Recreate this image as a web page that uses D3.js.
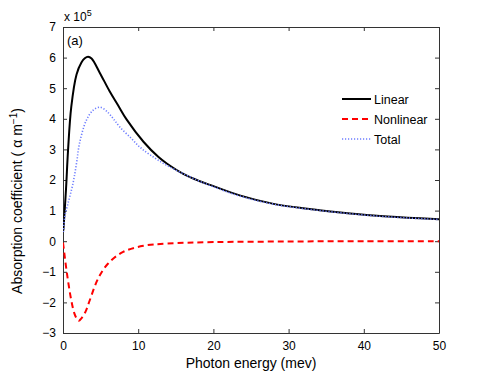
<!DOCTYPE html>
<html>
<head>
<meta charset="utf-8">
<script src="https://cdn.jsdelivr.net/npm/d3@7"></script>
<style>
  body { margin: 0; background: #fff; }
  text { font-family: "Liberation Sans", Arial, sans-serif; fill: #000; }
</style>
</head>
<body>
<div id="my_dataviz"></div>
<script>
// values (y in units of 1e5)
var linearE   = [0.05, 0.4, 0.67, 1.1, 1.8, 2.45, 2.9, 3.33, 3.8, 4.9, 6.2, 7.3, 8.45, 10.7, 12.7, 13.8, 16, 18.2, 20, 23.6, 28, 32.5, 36.9, 41.3, 45.8, 50];
var linearVal = [0.35, 1.7, 2.97, 4.39, 5.45, 5.84, 5.98, 6.03, 5.97, 5.5, 4.9, 4.45, 3.98, 3.25, 2.75, 2.54, 2.2, 1.96, 1.8, 1.49, 1.22, 1.06, 0.94, 0.84, 0.77, 0.72];

var nonlinE   = [0, 0.1, 0.53, 1.1, 1.5, 1.8, 2.1, 2.45, 3.0, 3.56, 4.67, 6.0, 8.0, 10.7, 13.8, 20, 30, 40, 50];
var nonlinVal = [-0.05, -0.24, -1.06, -1.93, -2.35, -2.52, -2.6, -2.52, -2.3, -1.93, -1.22, -0.73, -0.35, -0.15, -0.08, -0.03, -0.01, 0, 0];

var totalE    = [0.05, 0.23, 0.67, 1.33, 1.8, 2.2, 3.1, 4.0, 4.9, 5.8, 6.7, 7.56, 9.0, 10.2, 11.6, 13.8, 17.8, 20, 23.6, 28, 32.5, 36.9, 41.3, 45.8, 50];
var totalVal  = [0.3, 0.8, 1.24, 1.89, 2.55, 3.2, 3.95, 4.28, 4.38, 4.25, 4.0, 3.73, 3.38, 3.08, 2.82, 2.48, 2.0, 1.78, 1.47, 1.21, 1.05, 0.93, 0.83, 0.76, 0.71];

var xTicks = [0, 10, 20, 30, 40, 50];
var yTicks = [-3, -2, -1, 0, 1, 2, 3, 4, 5, 6, 7];
var seriesNames = ["Linear", "Nonlinear", "Total"];

var margin = {top: 27, right: 46, bottom: 41, left: 63},
    width = 485 - margin.left - margin.right,
    height = 374 - margin.top - margin.bottom;

var svg = d3.select("#my_dataviz")
            .append("svg")
              .attr("width", 485)
              .attr("height", 374)
            .append("g")
              .attr("transform", "translate(" + margin.left + "," + margin.top + ")");

var x = d3.scaleLinear().domain([0, 50]).range([0, width]);
var y = d3.scaleLinear().domain([-3, 7]).range([height, 0]);

// clip curves to the plot box
svg.append("clipPath").attr("id", "clip")
   .append("rect").attr("width", width).attr("height", height);

function styleAxis(g) {
  g.selectAll("path").attr("stroke", "#333").attr("stroke-width", 1);
  g.selectAll("line").attr("stroke", "#333");
  g.selectAll("text").style("font-size", "12px").attr("fill", "#000");
}

// bottom / left axes with inward ticks
svg.append("g")
   .attr("transform", "translate(0," + height + ")")
   .call(d3.axisBottom(x).tickValues(xTicks).tickSize(-4).tickSizeOuter(0).tickPadding(8))
   .call(styleAxis);
svg.append("g")
   .call(d3.axisLeft(y).tickValues(yTicks).tickSize(-4).tickSizeOuter(0).tickPadding(7))
   .call(styleAxis);
// top / right axes, no labels
svg.append("g")
   .call(d3.axisTop(x).tickValues(xTicks).tickSize(-4).tickSizeOuter(0).tickFormat(""))
   .call(styleAxis);
svg.append("g")
   .attr("transform", "translate(" + width + ",0)")
   .call(d3.axisRight(y).tickValues(yTicks).tickSize(-4).tickSizeOuter(0).tickFormat(""))
   .call(styleAxis);

var line = d3.line()
  .x(function(d) { return x(d[0]); })
  .y(function(d) { return y(d[1]); })
  .curve(d3.curveCatmullRom.alpha(0.5));

var plot = svg.append("g").attr("clip-path", "url(#clip)");

plot.append("path")
    .datum(d3.zip(nonlinE, nonlinVal))
    .attr("d", line)
    .attr("fill", "none")
    .attr("stroke", "#ff0000")
    .attr("stroke-width", 2)
    .attr("stroke-dasharray", "6,4");

plot.append("path")
    .datum(d3.zip(linearE, linearVal))
    .attr("d", line)
    .attr("fill", "none")
    .attr("stroke", "#000")
    .attr("stroke-width", 2);

plot.append("path")
    .datum(d3.zip(totalE, totalVal))
    .attr("d", line)
    .attr("fill", "none")
    .attr("stroke", "#6d7dff")
    .attr("stroke-width", 1.6)
    .attr("stroke-dasharray", "1.2,1.8");

// legend
var legendStyles = [
  {stroke: "#000", dash: null, w: 2},
  {stroke: "#ff0000", dash: "6,4", w: 2},
  {stroke: "#6d7dff", dash: "1.2,1.8", w: 1.6}
];
var legend = svg.append("g").attr("transform", "translate(279,72)");
seriesNames.forEach(function(name, i) {
  var row = legend.append("g").attr("transform", "translate(0," + (i * 20) + ")");
  row.append("line")
     .attr("x1", 0).attr("x2", 29).attr("y1", 0).attr("y2", 0)
     .attr("stroke", legendStyles[i].stroke)
     .attr("stroke-width", legendStyles[i].w)
     .attr("stroke-dasharray", legendStyles[i].dash);
  row.append("text")
     .attr("x", 32).attr("y", 4.5)
     .style("font-size", "12.5px")
     .text(name);
});

// labels
svg.append("text")
   .attr("x", 4).attr("y", 18)
   .style("font-size", "13px")
   .text("(a)");

var expo = svg.append("text")
   .attr("x", 1).attr("y", -6)
   .style("font-size", "12px");
expo.append("tspan").text("x 10");
expo.append("tspan").attr("dy", -5).style("font-size", "9px").text("5");

svg.append("text")
   .attr("text-anchor", "middle")
   .attr("x", width / 2)
   .attr("y", height + 35)
   .style("font-size", "14px")
   .text("Photon energy (mev)");

var ylab = svg.append("text")
   .attr("text-anchor", "middle")
   .attr("transform", "translate(-41," + (height / 2 + 21) + ") rotate(-90)")
   .style("font-size", "14px");
ylab.append("tspan").text("Absorption coefficient ( \u03b1 m");
ylab.append("tspan").attr("dy", -5).style("font-size", "10px").text("\u22121");
ylab.append("tspan").attr("dy", 5).text(")");
</script>
</body>
</html>
